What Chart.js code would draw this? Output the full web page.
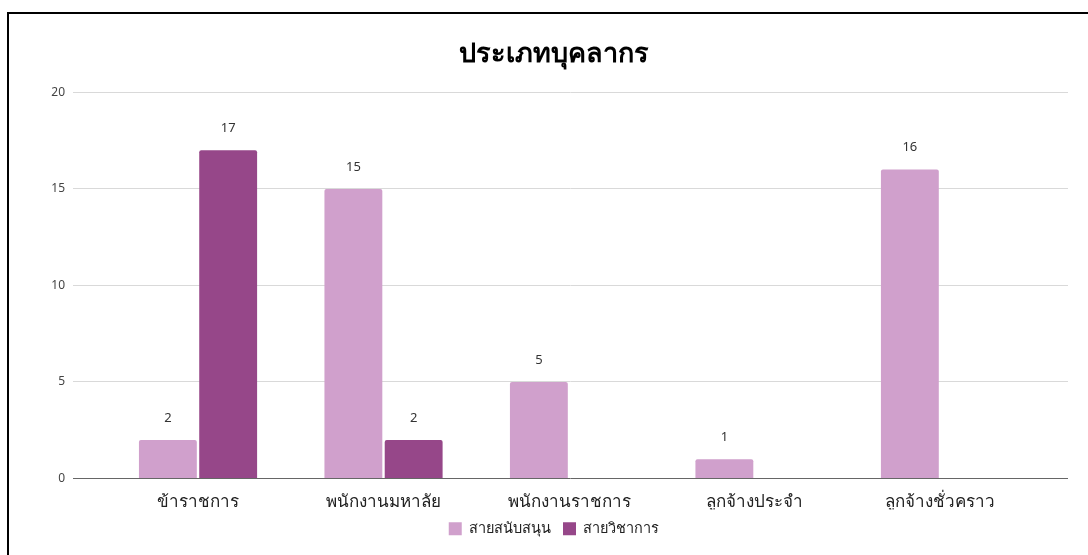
<!DOCTYPE html>
<html>
<head>
<meta charset="utf-8">
<script src="https://cdn.jsdelivr.net/npm/chart.js@4/dist/chart.umd.min.js"></script>
<style>
  html, body { margin: 0; padding: 0; background: #fff; overflow: hidden; }
  #wrap { position: relative; width: 1088px; height: 555px; }
  #frame {
    position: absolute; left: 7px; top: 12px; width: 1100px; height: 560px;
    border: 2px solid #000; box-sizing: border-box; pointer-events: none;
  }
  canvas { position: absolute; left: 0; top: 0; }
</style>
</head>
<body>
<div id="wrap">
  <canvas id="staffChart" width="1088" height="555"></canvas>
  <div id="frame"></div>
</div>
<script>
// Chart data
const categories = ['ข้าราชการ', 'พนักงานมหาลัย', 'พนักงานราชการ', 'ลูกจ้างประจำ', 'ลูกจ้างชั่วคราว'];
const supportStaff = [2, 15, 5, 1, 16];   // สายสนับสนุน
const academicStaff = [17, 2, 0, 0, 0];   // สายวิชาการ
const yTicks = [0, 5, 10, 15, 20];

const thaiFont = "'Noto Sans', Roboto, Arial, sans-serif";

/**
 * Draws the value above each non-zero bar.
 */
const barValueLabels = {
    id: 'barValueLabels',
    afterDatasetsDraw(chart) {
        const ctx = chart.ctx;
        ctx.save();
        ctx.font = '13px ' + thaiFont;
        ctx.fillStyle = '#333';
        ctx.textAlign = 'center';
        ctx.textBaseline = 'middle';
        chart.data.datasets.forEach((ds, di) => {
            const meta = chart.getDatasetMeta(di);
            meta.data.forEach((bar, i) => {
                const v = ds.data[i].y;
                if (!v) return;
                ctx.fillText(String(v), bar.x, bar.y - 22);
            });
        });
        ctx.restore();
    }
};

function toPoints(values) {
    return values.map((v, i) => ({ x: i, y: v }));
}

const ctx = document.getElementById('staffChart').getContext('2d');

new Chart(ctx, {
    type: 'bar',
    data: {
        datasets: [{
            label: 'สายสนับสนุน',
            data: toPoints(supportStaff),
            backgroundColor: '#d0a0cc',
            borderRadius: { topLeft: 2, topRight: 2 },
            borderSkipped: 'bottom'
        }, {
            label: 'สายวิชาการ',
            data: toPoints(academicStaff),
            backgroundColor: '#964789',
            borderRadius: { topLeft: 2, topRight: 2 },
            borderSkipped: 'bottom'
        }]
    },
    options: {
        responsive: false,
        animation: false,
        categoryPercentage: 0.65,
        barPercentage: 0.96,
        layout: {
            padding: { left: 40, right: 20, top: 28, bottom: 9 }
        },
        plugins: {
            title: {
                display: true,
                text: 'ประเภทบุคลากร',
                color: '#000',
                font: { family: thaiFont, size: 27, weight: 'bold' },
                padding: { top: 10, bottom: 22 }
            },
            legend: {
                position: 'bottom',
                labels: {
                    boxWidth: 13,
                    boxHeight: 13,
                    padding: 12,
                    color: '#222',
                    font: { family: thaiFont, size: 14.5 }
                }
            },
            tooltip: { enabled: false }
        },
        scales: {
            x: {
                type: 'linear',
                min: -0.674,
                max: 4.69,
                offset: false,
                grid: { display: false },
                border: { display: false },
                ticks: {
                    stepSize: 1,
                    includeBounds: false,
                    autoSkip: false,
                    maxRotation: 0,
                    color: '#222',
                    padding: 5,
                    font: { family: thaiFont, size: 17 },
                    callback: function(value) {
                        return categories[value] !== undefined ? categories[value] : '';
                    }
                },
                afterFit: function(scale) {
                    scale.height = 31;
                }
            },
            y: {
                min: 0,
                max: 20,
                border: { display: false },
                grid: {
                    drawTicks: false,
                    color: function(c) {
                        return c.tick.value === 0 ? '#666' : '#d9d9d9';
                    }
                },
                afterBuildTicks: function(scale) {
                    scale.ticks = yTicks.map(v => ({ value: v }));
                },
                ticks: {
                    color: '#444',
                    padding: 8,
                    font: { family: thaiFont, size: 12 }
                },
                afterFit: function(scale) {
                    scale.width = 33;
                }
            }
        }
    },
    plugins: [barValueLabels]
});
</script>
</body>
</html>
